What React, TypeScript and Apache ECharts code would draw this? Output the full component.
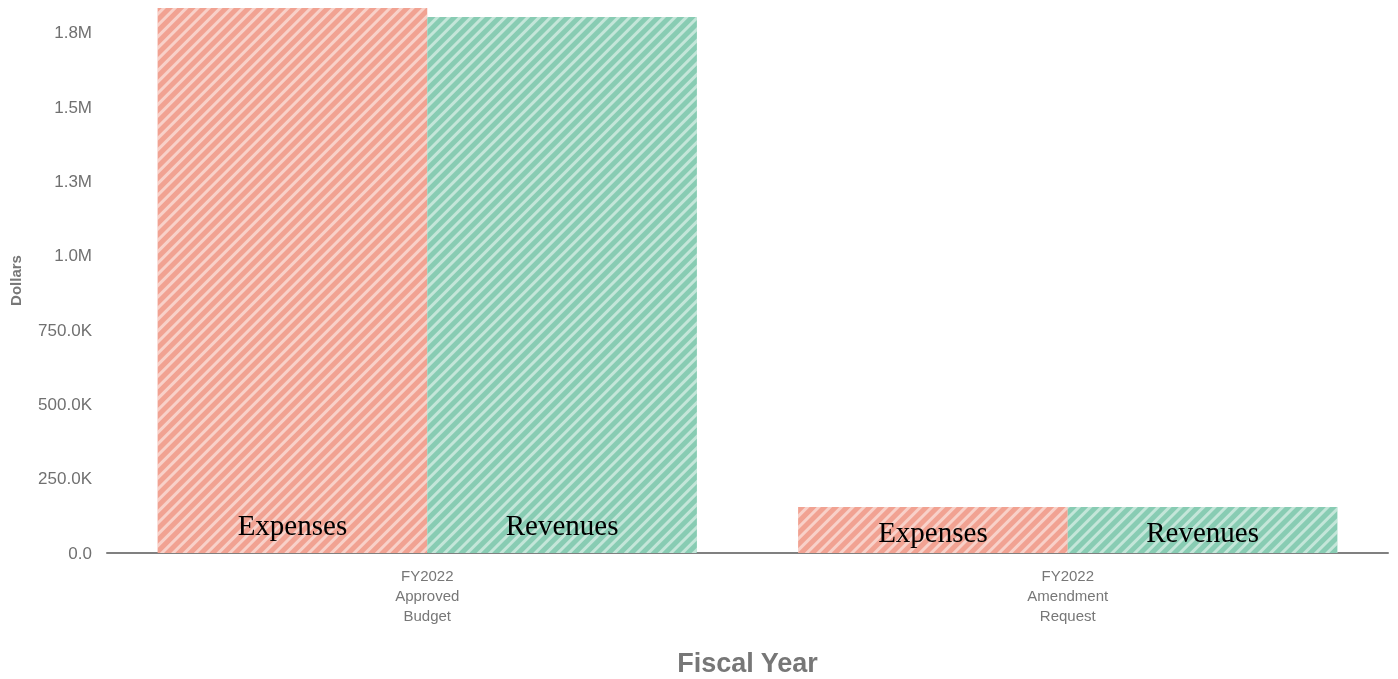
import React, { useEffect, useRef } from "react";
import * as echarts from "echarts";

const categories = ["FY2022\nApproved\nBudget", "FY2022\nAmendment\nRequest"];
const expenses = [1834000, 155000];
const revenues = [1804000, 155000];
const seriesNames = ["Expenses", "Revenues"];
const yTickValues = [0, 250000, 500000, 750000, 1000000, 1250000, 1500000, 1750000];

const fmt = (v: number) => {
  if (!yTickValues.includes(v)) return "";
  if (v === 0) return "0.0";
  if (v >= 1000000) return (v / 1000000).toFixed(1) + "M";
  return (v / 1000).toFixed(1) + "K";
};

const makeDecal = () => ({
  symbol: "rect",
  symbolSize: 1,
  dashArrayX: [1, 0],
  dashArrayY: [2.5, 5],
  rotation: -Math.PI / 4,
  color: "rgba(255,255,255,0.5)",
});

const labelFor = (name: string, idx: number) =>
  idx === 0
    ? { show: true, position: "insideBottom", distance: 14, formatter: name, fontFamily: "Liberation Serif", fontSize: 29, color: "#000" }
    : { show: true, position: "inside", offset: [0, 2], formatter: name, fontFamily: "Liberation Serif", fontSize: 29, color: "#000" };

export default function App() {
  const ref = useRef<HTMLDivElement>(null);
  useEffect(() => {
    if (!ref.current) return;
    const chart = echarts.init(ref.current, null, { renderer: "svg" });
    const colors = ["#F1A292", "#88CCB3"];
    const mk = (name: string, data: number[], i: number) => ({
      name,
      type: "bar",
      barGap: "0%",
      barCategoryGap: "15.8%",
      itemStyle: { color: colors[i], decal: makeDecal() },
      data: data.map((v, idx) => ({ value: v, label: labelFor(name, idx) })),
    });
    chart.setOption({
      animation: false,
      grid: { left: 107, right: 10, top: 8, bottom: 126, containLabel: false, outerBoundsMode: "none" },
      xAxis: {
        type: "category",
        data: categories,
        name: "Fiscal Year",
        nameLocation: "middle",
        nameGap: 96,
        nameTextStyle: { fontFamily: "Liberation Sans", fontSize: 27, fontWeight: "bold", color: "#777" },
        axisLine: { lineStyle: { color: "#808080", width: 2 } },
        axisTick: { show: false },
        axisLabel: { fontFamily: "Liberation Sans", fontSize: 15, lineHeight: 20, color: "#777", margin: 12 },
      },
      yAxis: {
        type: "value",
        min: 0,
        max: 1834000,
        interval: 250000,
        name: "Dollars",
        nameLocation: "middle",
        nameGap: 84,
        nameTextStyle: { fontFamily: "Liberation Sans", fontSize: 15, fontWeight: "bold", color: "#777" },
        axisLine: { show: false },
        axisTick: { show: false },
        splitLine: { show: false },
        axisLabel: { fontFamily: "Liberation Sans", fontSize: 17, color: "#707070", margin: 15, formatter: fmt },
      },
      series: [mk(seriesNames[0], expenses, 0), mk(seriesNames[1], revenues, 1)],
    });
    return () => chart.dispose();
  }, []);
  return <div ref={ref} style={{ position: "fixed", left: 0, top: 0, width: 1398, height: 679 }} />;
}
